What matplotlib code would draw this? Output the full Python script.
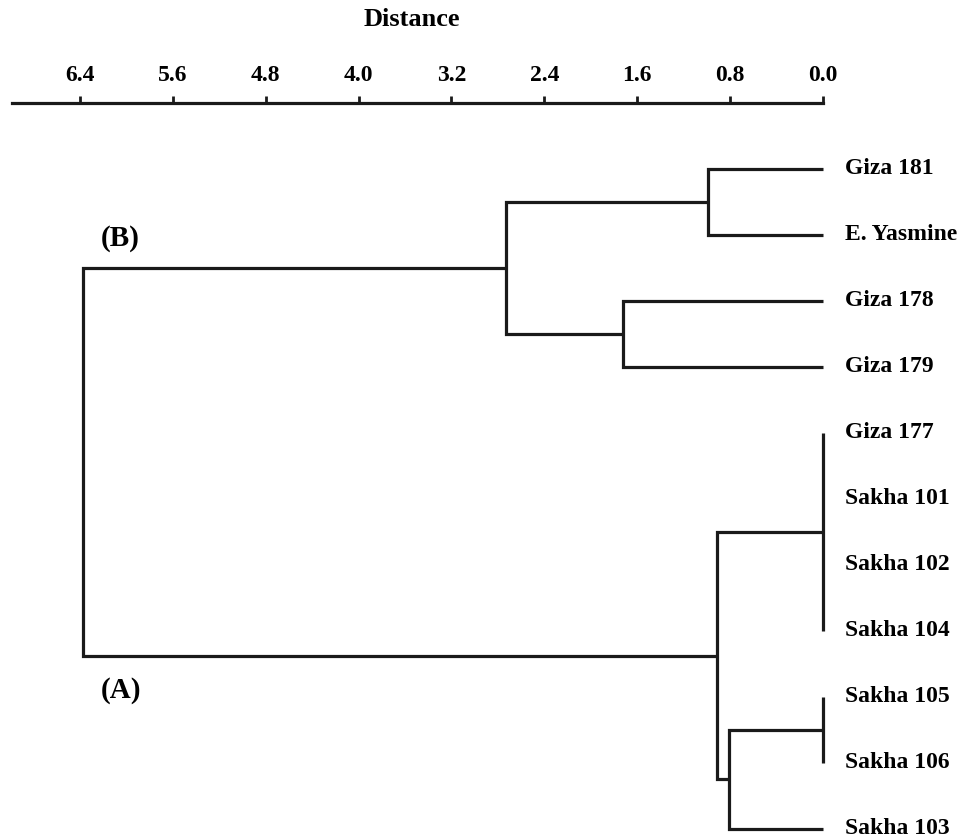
import matplotlib
matplotlib.use("Agg")
import matplotlib.pyplot as plt

# ---- data ----
leaf_labels = ["Giza 181", "E. Yasmine", "Giza 178", "Giza 179", "Giza 177",
               "Sakha 101", "Sakha 102", "Sakha 104", "Sakha 105", "Sakha 106",
               "Sakha 103"]
# merges: node ids continue after the leaves (11, 12, ...)
merge_children = [[4, 5, 6, 7],   # 11
                  [8, 9],         # 12
                  [0, 1],         # 13
                  [2, 3],         # 14
                  [12, 10],       # 15
                  [11, 15],       # 16
                  [13, 14],       # 17
                  [17, 16]]       # 18 (root)
merge_heights = [0.0, 0.0, 0.99, 1.72, 0.81, 0.91, 2.73, 6.37]
tick_values = [6.4, 5.6, 4.8, 4.0, 3.2, 2.4, 1.6, 0.8, 0.0]
tick_labels = ["6.4", "5.6", "4.8", "4.0", "3.2", "2.4", "1.6", "0.8", "0.0"]
group_labels = ["(B)", "(A)"]
axis_title = "Distance"

plt.rcParams['font.family'] = ['Liberation Serif', 'DejaVu Serif']
plt.rcParams['font.weight'] = 'bold'

fig = plt.figure(figsize=(9.62, 8.38), dpi=100)
ax = fig.add_axes([12 / 962, 0.0, 811 / 962, 735 / 838])

n = len(leaf_labels)
pos_y = {i: float(i) for i in range(n)}
pos_h = {i: 0.0 for i in range(n)}
lc = '#1a1a1a'
lw = 2.3
for k, (children, h) in enumerate(zip(merge_children, merge_heights)):
    node = n + k
    ys = [pos_y[c] for c in children]
    order = sorted(children, key=lambda c: pos_y[c])
    first, last = order[0], order[-1]
    ax.plot([pos_h[first], h, h, pos_h[last]],
            [pos_y[first], pos_y[first], pos_y[last], pos_y[last]],
            color=lc, lw=lw, solid_joinstyle='miter', solid_capstyle='butt',
            clip_on=False)
    for c in order[1:-1]:
        if pos_h[c] != h:
            ax.plot([pos_h[c], h], [pos_y[c], pos_y[c]], color=lc, lw=lw,
                    clip_on=False)
    pos_y[node] = (min(ys) + max(ys)) / 2
    pos_h[node] = h

for i, lab in enumerate(leaf_labels):
    ax.text(-0.19, i, lab, ha='left', va='center', fontsize=17,
            fontweight='bold', clip_on=False)

ax.text(6.22, 1.05, group_labels[0], ha='left', va='center', fontsize=21,
        fontweight='bold')
ax.text(6.22, 7.9, group_labels[1], ha='left', va='center', fontsize=21,
        fontweight='bold')

ax.set_xlim(6.985, 0.0)
ax.set_ylim(10.14, -1.0)
for s in ['left', 'right', 'bottom']:
    ax.spines[s].set_visible(False)
ax.spines['top'].set_linewidth(2.3)
ax.spines['top'].set_color(lc)
ax.xaxis.set_ticks_position('top')
ax.xaxis.set_label_position('top')
ax.set_xticks(tick_values)
ax.set_xticklabels(tick_labels, fontsize=17, fontweight='bold')
ax.tick_params(axis='x', direction='out', length=5, width=2, color=lc, pad=7)
ax.set_yticks([])

fig.text(412 / 962, 1 - 20 / 838, axis_title, ha='center', va='center',
         fontsize=19, fontweight='bold')

fig.savefig("out.png", dpi=100)
